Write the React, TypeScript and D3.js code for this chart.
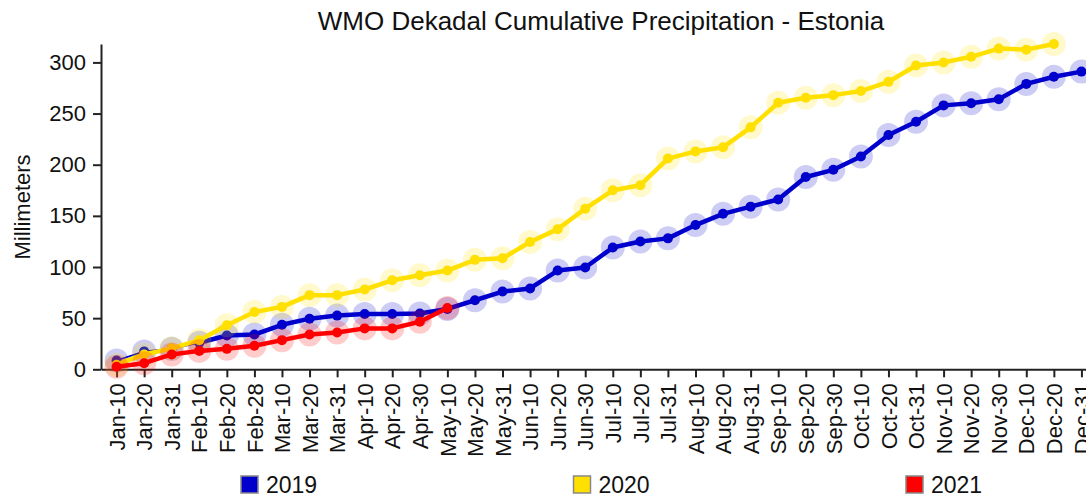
import React, { useEffect, useRef } from 'react';
import * as d3 from 'd3';

const dekads: string[] = [
  'Jan-10', 'Jan-20', 'Jan-31', 'Feb-10', 'Feb-20', 'Feb-28',
  'Mar-10', 'Mar-20', 'Mar-31', 'Apr-10', 'Apr-20', 'Apr-30',
  'May-10', 'May-20', 'May-31', 'Jun-10', 'Jun-20', 'Jun-30',
  'Jul-10', 'Jul-20', 'Jul-31', 'Aug-10', 'Aug-20', 'Aug-31',
  'Sep-10', 'Sep-20', 'Sep-30', 'Oct-10', 'Oct-20', 'Oct-31',
  'Nov-10', 'Nov-20', 'Nov-30', 'Dec-10', 'Dec-20', 'Dec-31',
];

const precip2019: number[] = [
  8.5, 17.5, 20, 26, 33, 34, 43.5, 49.5, 52.5, 54, 54, 54.5,
  59, 67.5, 76, 79, 96.5, 99.5, 119, 125, 128, 141, 152, 159,
  166, 188, 195, 208, 229, 242, 258, 260, 264, 279, 286, 291,
];

const precip2020: number[] = [
  4.5, 14.5, 20.5, 28.5, 43, 56, 61, 72.5, 72.5, 78, 87, 92,
  96.5, 107, 108.5, 124.5, 137, 157, 175, 180, 206, 213, 217, 236.5,
  260.5, 265.5, 268, 272, 281, 297, 300, 305.5, 313.5, 312.5, 318,
];

const precip2021: number[] = [2.5, 6, 14.5, 18, 20, 23, 28.5, 34, 36, 40, 40, 46.5, 60];

const yTicks: number[] = [0, 50, 100, 150, 200, 250, 300];

interface Series {
  name: string;
  values: number[];
  color: string;
  thinUntil: number;
}

const series: Series[] = [
  { name: '2019', values: precip2019, color: '#0000cc', thinUntil: 3 },
  { name: '2020', values: precip2020, color: '#ffe000', thinUntil: 0 },
  { name: '2021', values: precip2021, color: '#ff0000', thinUntil: 0 },
];

const W = 1086;
const H = 497;
const FONT = '"Liberation Sans", Arial, Helvetica, sans-serif';

const Chart: React.FC = () => {
  const ref = useRef<SVGSVGElement | null>(null);

  useEffect(() => {
    if (!ref.current) return;
    const svg = d3.select(ref.current);
    svg.selectAll('*').remove();

    const left = 101;
    const top = 44;
    const bottom = 369.3;

    const x = d3.scalePoint<string>().domain(dekads).range([left, 1097]).padding(0.565);
    const y = d3.scaleLinear().domain([0, 318]).range([bottom, top]);

    // title
    svg
      .append('text')
      .attr('x', 601)
      .attr('y', 30)
      .attr('text-anchor', 'middle')
      .attr('font-family', FONT)
      .attr('font-size', 26)
      .attr('fill', '#111')
      .text('WMO Dekadal Cumulative Precipitation - Estonia');

    // y label
    svg
      .append('text')
      .attr('transform', `translate(30,207) rotate(-90)`)
      .attr('text-anchor', 'middle')
      .attr('font-family', FONT)
      .attr('font-size', 22)
      .attr('fill', '#111')
      .text('Millimeters');

    // axes
    const yAxis = svg
      .append('g')
      .attr('transform', `translate(${left},0)`)
      .call(d3.axisLeft(y).tickValues(yTicks).tickSize(8).tickSizeOuter(0).tickPadding(7));

    const xAxis = svg
      .append('g')
      .attr('transform', `translate(0,${bottom})`)
      .call(d3.axisBottom(x).tickSize(8).tickSizeOuter(0).tickPadding(6));

    [yAxis, xAxis].forEach((g) => {
      g.select('.domain').attr('stroke', '#222').attr('stroke-width', 2);
      g.selectAll('.tick line').attr('stroke', '#222').attr('stroke-width', 2);
      g.selectAll('.tick text')
        .attr('font-family', FONT)
        .attr('font-size', 22)
        .attr('fill', '#111');
    });

    xAxis
      .selectAll('.tick text')
      .attr('transform', 'rotate(-90)')
      .attr('text-anchor', 'end')
      .attr('x', -14)
      .attr('y', 0)
      .attr('dy', '0.35em');

    // series
    const line = d3
      .line<number>()
      .x((_, i) => x(dekads[i]) ?? 0)
      .y((d) => y(d));

    series.forEach((s) => {
      const g = svg.append('g');
      g.selectAll('circle.halo')
        .data(s.values)
        .enter()
        .append('circle')
        .attr('cx', (_, i) => x(dekads[i]) ?? 0)
        .attr('cy', (d) => y(d))
        .attr('r', 12)
        .attr('fill', s.color)
        .attr('fill-opacity', 0.2);

      if (s.thinUntil > 0) {
        g.append('path')
          .attr('d', line(s.values.slice(0, s.thinUntil + 1)))
          .attr('fill', 'none')
          .attr('stroke', s.color)
          .attr('stroke-width', 1.6);
      }
      const rest = s.values.slice(s.thinUntil);
      g.append('path')
        .attr(
          'd',
          d3
            .line<number>()
            .x((_, i) => x(dekads[i + s.thinUntil]) ?? 0)
            .y((d) => y(d))(rest),
        )
        .attr('fill', 'none')
        .attr('stroke', s.color)
        .attr('stroke-width', 4.5)
        .attr('stroke-linejoin', 'round');

      g.selectAll('circle.dot')
        .data(s.values)
        .enter()
        .append('circle')
        .attr('cx', (_, i) => x(dekads[i]) ?? 0)
        .attr('cy', (d) => y(d))
        .attr('r', 5)
        .attr('fill', s.color);
    });

    // legend
    const legend = svg.append('g');
    series.forEach((s, i) => {
      const lx = 241 + i * 332.5;
      legend
        .append('rect')
        .attr('x', lx)
        .attr('y', 476)
        .attr('width', 17)
        .attr('height', 17)
        .attr('fill', s.color)
        .attr('stroke', '#888')
        .attr('stroke-width', 1.5);
      legend
        .append('text')
        .attr('x', lx + 25)
        .attr('y', 493)
        .attr('font-family', FONT)
        .attr('font-size', 23)
        .attr('fill', '#111')
        .text(s.name);
    });
  }, []);

  return <svg ref={ref} width={W} height={H} style={{ display: 'block' }} />;
};

export default function App() {
  return (
    <div style={{ position: 'absolute', left: 0, top: 0, width: W, height: H, background: '#fff' }}>
      <Chart />
    </div>
  );
}
